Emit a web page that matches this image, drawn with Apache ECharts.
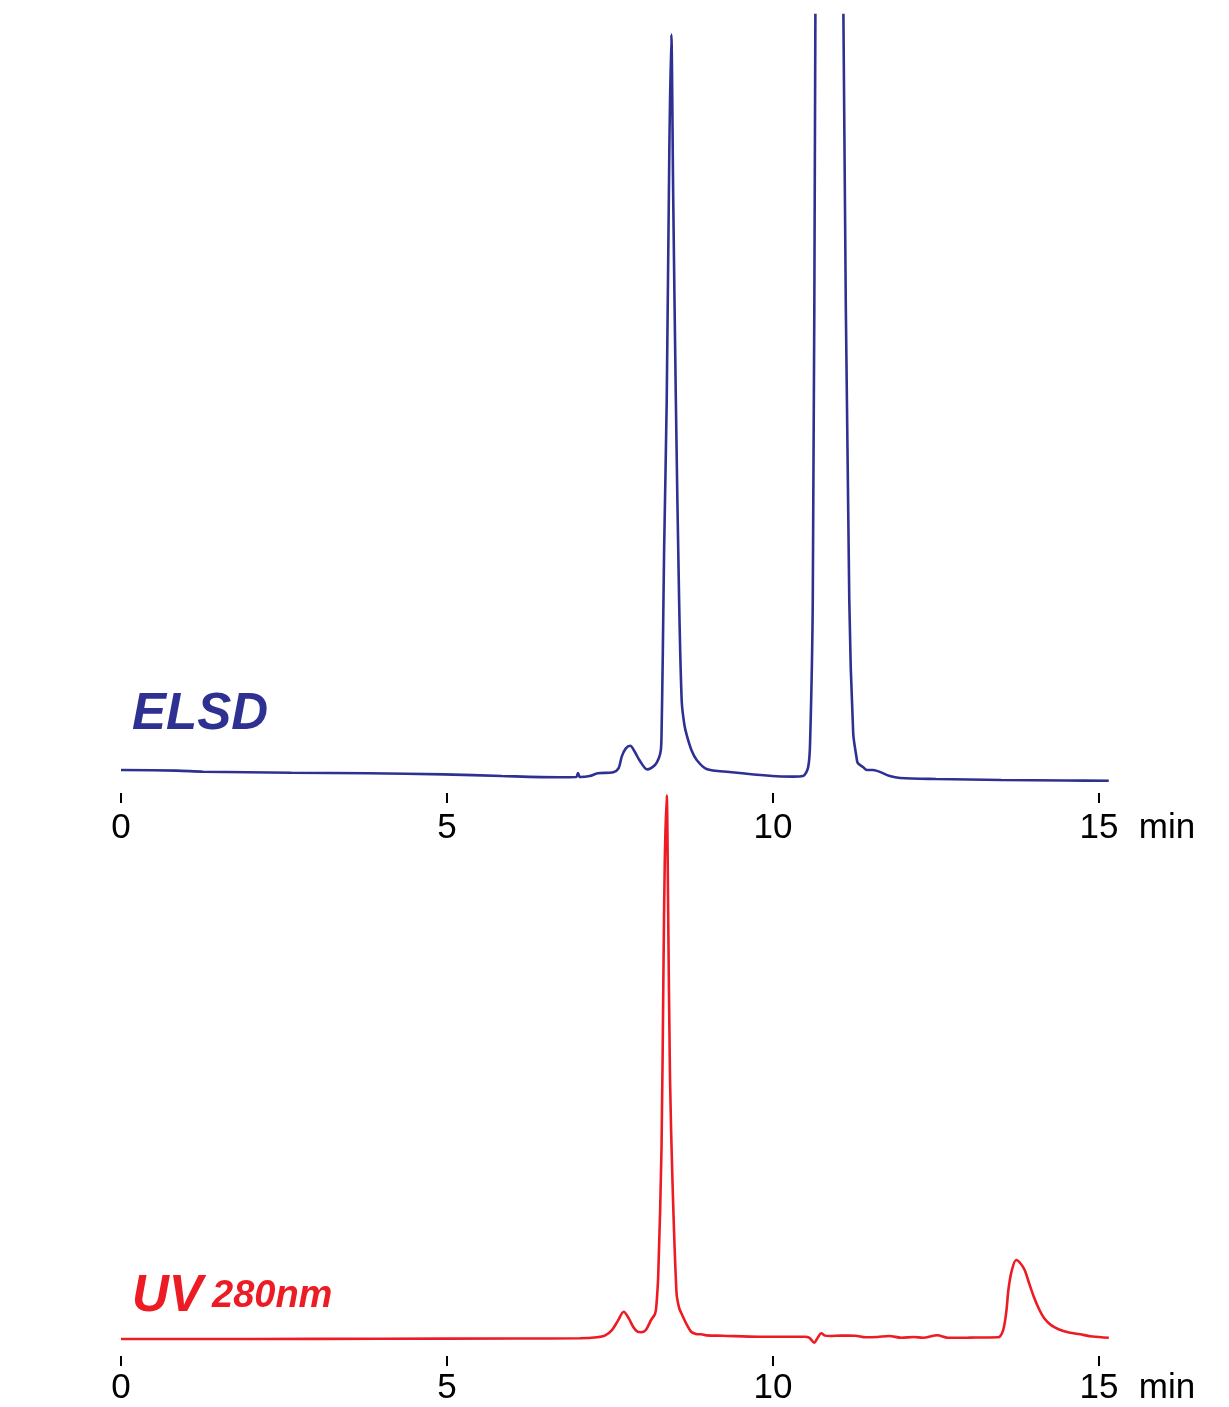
<!DOCTYPE html>
<html>
<head>
<meta charset="utf-8">
<script src="https://cdn.jsdelivr.net/npm/echarts@6/dist/echarts.min.js"></script>
<style>
  html, body { margin: 0; padding: 0; background: #ffffff; }
  #chart { width: 1229px; height: 1407px; }
</style>
</head>
<body>
<div id="chart"></div>
<script>
// ---- data (time in min, signal in arbitrary units) ----
const tickValues = [0, 5, 10, 15];
const xUnit = 'min';
const detectorLabels = ['ELSD', 'UV', '280nm'];

const elsdTime = [0, 0.85, 1.26, 2.61, 3.79, 4.95, 5.84, 6.72, 6.98, 7.01, 7.04, 7.19, 7.31, 7.55,
  7.63, 7.68, 7.74, 7.81, 7.88, 7.95, 8.07, 8.19, 8.25, 8.28, 8.29, 8.31, 8.33, 8.37, 8.41, 8.44,
  8.47, 8.51, 8.56, 8.60, 8.64, 8.68, 8.75, 8.83, 8.98, 9.33, 9.99, 10.3, 10.46, 10.54, 10.57, 10.61,
  10.65, 10.66, 11.07, 11.08, 11.17, 11.23, 11.28, 11.30, 11.38, 11.44, 11.53, 11.79, 11.95,
  12.5, 13.5, 14.5, 15.15];
const elsdSignal = [29.6, 28.7, 27.4, 26.1, 25.3, 24.0, 21.8, 20.2, 20.5, 25.7, 20.5, 21.8, 25.3, 26.6,
  31.5, 46.7, 57, 60.8, 53, 42.4, 30.4, 36.0, 45, 55.5, 73.3, 180, 312.3, 505.1, 826.4, 975,
  762.2, 505.1, 248.1, 118.2, 88, 73.3, 55, 42.4, 30.8, 27.0, 21.8, 21.1, 21.8, 33.4, 68.1, 248.1,
  1000, 1500, 1500, 998.7, 248.1, 77.1, 46.3, 38.6, 33.4, 29.6, 29.6, 21.8, 19.3,
  18.0, 16.7, 16.0, 15.8];

const uvTime = [0, 2, 4, 6, 7.04, 7.3, 7.42, 7.53, 7.62, 7.71, 7.79, 7.86, 7.92, 7.98, 8.05, 8.13,
  8.19, 8.21, 8.24, 8.29, 8.32, 8.34, 8.37, 8.39, 8.42, 8.46, 8.52, 8.56, 8.60, 8.68, 8.75, 8.82,
  8.90, 8.98, 9.23, 9.78, 10.49, 10.56, 10.63, 10.69, 10.74, 10.80, 10.87, 11.05, 11.26, 11.42,
  11.6, 11.78, 11.97, 12.16, 12.30, 12.52, 12.68, 13.0, 13.45, 13.53, 13.58, 13.61, 13.66, 13.73,
  13.80, 13.86, 13.93, 14.00, 14.08, 14.16, 14.26, 14.38, 14.54, 14.71, 14.9, 15.15];
const uvSignal = [30.0, 30.0, 30.5, 30.8, 31.3, 33, 35.9, 45.9, 62, 78.3, 66, 50.7, 43, 42.0, 46, 63.6,
  74.2, 87, 143.8, 365.7, 682.9, 873.1, 990.5, 809.7, 492.9, 302.1, 112.2, 85, 74.2, 55, 42.4, 39,
  38.3, 36.5, 35.9, 34.1, 34.1, 32, 23.5, 33, 40.1, 36, 35.3, 36, 35.9, 33.0,
  33.5, 35.3, 32.3, 33.6, 32.3, 36.6, 32.3, 32.5, 33.0, 45.9, 80, 116.6, 150, 169.6,
  163, 151.9, 128, 104.8, 83, 66.6, 55, 47.2, 41.5, 38.3, 34.5, 32.3];

const zip = (a, b) => a.map((t, i) => [t, b[i]]);

const FONT = '"Liberation Sans", Arial, Helvetica, sans-serif';
const xMax = 15.15;
const pxPerMin = 65.2;
const gridWidth = xMax * pxPerMin;

function makeXAxis(gridIndex, margin) {
  return {
    type: 'value', gridIndex: gridIndex, min: 0, max: xMax,
    name: xUnit, nameLocation: 'end', nameGap: 30,
    nameTextStyle: { fontFamily: FONT, fontSize: 35, color: '#000', verticalAlign: 'top', padding: [margin, 0, 0, 0] },
    axisLine: { show: false },
    splitLine: { show: false },
    axisTick: { show: true, length: 10, inside: false, customValues: tickValues,
      lineStyle: { color: '#000', width: 2 } },
    axisLabel: { show: true, customValues: tickValues, margin: margin,
      fontFamily: FONT, fontSize: 35, color: '#000' }
  };
}
function makeYAxis(gridIndex) {
  return { type: 'value', gridIndex: gridIndex, min: 0, max: 1000, show: false,
    axisLine: { show: false }, splitLine: { show: false }, axisTick: { show: false }, axisLabel: { show: false } };
}

const chart = echarts.init(document.getElementById('chart'), null, { renderer: 'canvas' });
chart.setOption({
  animation: false,
  backgroundColor: '#ffffff',
  grid: [
    { left: 121, top: 15, width: gridWidth, height: 778 },
    { left: 121, top: 790, width: gridWidth, height: 566 }
  ],
  xAxis: [makeXAxis(0, 18), makeXAxis(1, 15)],
  yAxis: [makeYAxis(0), makeYAxis(1)],
  series: [
    { name: detectorLabels[0], type: 'line', xAxisIndex: 0, yAxisIndex: 0, data: zip(elsdTime, elsdSignal),
      showSymbol: false, symbol: 'none', clip: true, smooth: 0.3,
      lineStyle: { color: '#2e3192', width: 2.6 } },
    { name: detectorLabels[1], type: 'line', xAxisIndex: 1, yAxisIndex: 1, data: zip(uvTime, uvSignal),
      showSymbol: false, symbol: 'none', clip: true, smooth: 0.3,
      lineStyle: { color: '#ed1c24', width: 2.6 } }
  ],
  graphic: [
    { type: 'text', left: 132, top: 689, style: { text: detectorLabels[0], fill: '#2e3192',
      font: 'italic bold 51px ' + FONT } },
    { type: 'text', left: 132, top: 1271, style: { text: detectorLabels[1], fill: '#ed1c24',
      font: 'italic bold 51px ' + FONT } },
    { type: 'text', left: 212, top: 1278, style: { text: detectorLabels[2], fill: '#ed1c24',
      font: 'italic bold 38px ' + FONT } }
  ]
});
</script>
</body>
</html>
